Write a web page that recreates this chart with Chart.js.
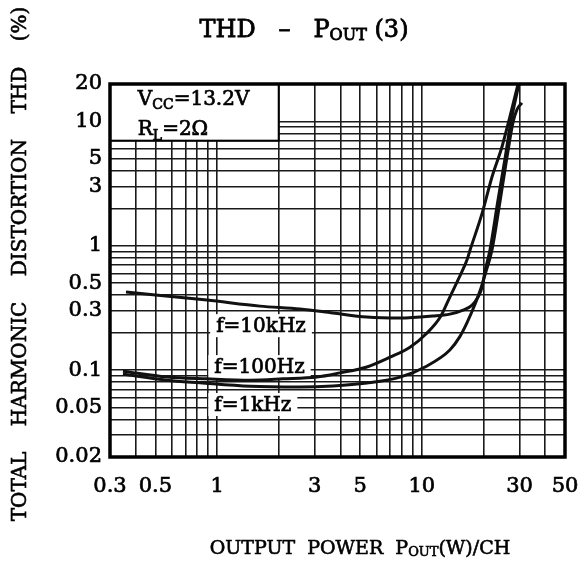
<!DOCTYPE html>
<html>
<head>
<meta charset="utf-8">
<script src="https://cdn.jsdelivr.net/npm/chart.js@4.4.1/dist/chart.umd.min.js"></script>
<style>
  body { margin: 0; background: #fff; }
  #wrap { width: 581px; height: 564px; }
</style>
</head>
<body>
<div id="wrap"><canvas id="thdChart"></canvas></div>
<script>
// output power (W) and THD (%)
const pout100Hz = [0.347, 0.569, 0.893, 1.45, 2.10, 3.07, 3.98, 5.39, 6.99, 8.75, 10.6, 12.3, 13.7, 15.0, 16.6, 17.2, 19.7, 22.0, 24.6, 26.9, 29.5];
const thd100Hz  = [0.098, 0.088, 0.085, 0.083, 0.085, 0.088, 0.095, 0.106, 0.127, 0.153, 0.199, 0.267, 0.387, 0.53, 0.767, 0.924, 1.83, 3.57, 6.23, 10.9, 20];

const pout1kHz = [0.347, 0.569, 0.825, 1.45, 2.54, 3.68, 5.39, 7.82, 10.6, 13.7, 15.3, 16.6, 18.2, 19.2, 20.6, 22.0, 24.1, 26.0, 27.9, 29.1, 30.8];
const thd1kHz  = [0.093, 0.083, 0.079, 0.074, 0.073, 0.0744, 0.0786, 0.0877, 0.108, 0.145, 0.185, 0.240, 0.340, 0.430, 0.626, 0.924, 2.29, 5.08, 9.89, 12.4, 14.1];

const pout10kHz = [0.359, 0.893, 1.62, 2.54, 3.68, 5.39, 7.82, 11.3, 13.7, 15.9, 17.6, 18.8, 19.7, 20.3, 21.5, 23.5, 25.5, 27.2, 29.8];
const thd10kHz  = [0.424, 0.366, 0.327, 0.310, 0.288, 0.267, 0.262, 0.272, 0.282, 0.304, 0.333, 0.387, 0.466, 0.615, 0.924, 2.29, 5.08, 9.89, 20];

// grid lines and which of them get a label
const xGrid = [0.3, 0.4, 0.5, 0.6, 0.7, 0.8, 0.9, 1, 2, 3, 4, 5, 6, 7, 8, 9, 10, 20, 30, 40, 50];
const xLabels = [0.3, 0.5, 1, 3, 5, 10, 30, 50];
const yGrid = [0.02, 0.03, 0.04, 0.05, 0.06, 0.07, 0.08, 0.09, 0.1, 0.2, 0.3, 0.4, 0.5, 0.6, 0.7, 0.8, 0.9, 1, 2, 3, 4, 5, 6, 7, 8, 9, 10, 20];
const yLabels = [0.02, 0.05, 0.1, 0.3, 0.5, 1, 3, 5, 10, 20];

// curve names, placed in data units
const curveLabels = [
  { text: 'f=10kHz', x: 0.99, y: 0.202 },
  { text: 'f=100Hz', x: 0.97, y: 0.0946 },
  { text: 'f=1kHz', x: 0.97, y: 0.0469 }
];

const serif = '"DejaVu Serif", serif';

function pts(xs, ys) {
  return xs.map((v, i) => ({ x: v, y: ys[i] }));
}

// regular face with a thin outline, close to the heavy print of the sheet
function inkText(ctx, s, x, y) {
  ctx.fillText(s, x, y);
  ctx.strokeText(s, x, y);
}

// draws text pieces one after another: [text, size, dy]
function drawRuns(ctx, runs, x, y, center) {
  let total = 0;
  runs.forEach(r => { ctx.font = r[1] + 'px ' + serif; total += ctx.measureText(r[0]).width; });
  let cx = center ? x - total / 2 : x;
  ctx.textAlign = 'left';
  ctx.textBaseline = 'alphabetic';
  runs.forEach(r => {
    ctx.font = r[1] + 'px ' + serif;
    inkText(ctx, r[0], cx, y + (r[2] || 0));
    cx += ctx.measureText(r[0]).width;
  });
}

const paperPlugin = {
  id: 'paper',
  beforeDatasetsDraw(chart) {
    const ctx = chart.ctx, a = chart.chartArea;
    const xs = chart.scales.x, ys = chart.scales.y;
    ctx.save();
    // condition box in the upper left corner
    const bx = xs.getPixelForValue(2), by = ys.getPixelForValue(7);
    ctx.fillStyle = '#fff';
    ctx.fillRect(a.left, a.top, bx - a.left, by - a.top);
    ctx.strokeStyle = '#000';
    ctx.lineWidth = 2;
    ctx.strokeRect(a.left, a.top, bx - a.left, by - a.top);
    ctx.fillStyle = '#000';
    ctx.lineWidth = 0.7;
    const tx = xs.getPixelForValue(0.41);
    drawRuns(ctx, [['V', 20], ['CC', 14, 4], ['=13.2V', 20]], tx, ys.getPixelForValue(13.6));
    drawRuns(ctx, [['R', 20], ['L', 14, 5], ['=2Ω', 20]], tx, ys.getPixelForValue(7.8));

    curveLabels.forEach(l => {
      const px = xs.getPixelForValue(l.x), py = ys.getPixelForValue(l.y);
      ctx.font = '20px ' + serif;
      const w = ctx.measureText(l.text).width;
      ctx.fillStyle = '#fff';
      ctx.fillRect(px - 6, py - 18, w + 12, 23);
      ctx.fillStyle = '#000';
      ctx.textAlign = 'left';
      inkText(ctx, l.text, px, py);
    });
    ctx.restore();
  },
  afterDatasetsDraw(chart) {
    const ctx = chart.ctx, a = chart.chartArea;
    ctx.save();
    ctx.strokeStyle = '#000';
    ctx.lineWidth = 3.5;
    ctx.strokeRect(a.left, a.top, a.right - a.left, a.bottom - a.top);
    ctx.restore();
  },
  afterDraw(chart) {
    const ctx = chart.ctx;
    ctx.save();
    ctx.fillStyle = '#000';
    ctx.strokeStyle = '#000';
    ctx.lineWidth = 0.8;
    drawRuns(ctx, [['THD   –   P', 24], ['OUT', 16, 3], [' (3)', 24]], 304, 37, true);
    ctx.lineWidth = 0.6;
    drawRuns(ctx, [['OUTPUT  POWER  P', 19], ['OUT', 13, 2], ['(W)/CH', 19]], 360, 554, true);
    ctx.translate(21, 264);
    ctx.rotate(-Math.PI / 2);
    ctx.font = '20px ' + serif;
    ctx.textAlign = 'center';
    ctx.textBaseline = 'middle';
    inkText(ctx, 'TOTAL    HARMONIC    DISTORTION    THD    (%)', 0, 0);
    ctx.restore();
  }
};

const line = { borderColor: '#111', borderWidth: 3, pointRadius: 0, fill: false, cubicInterpolationMode: 'monotone' };

const config = {
  type: 'line',
  data: {
    datasets: [
      Object.assign({ label: 'f=100Hz', data: pts(pout100Hz, thd100Hz) }, line),
      Object.assign({ label: 'f=1kHz', data: pts(pout1kHz, thd1kHz) }, line),
      Object.assign({ label: 'f=10kHz', data: pts(pout10kHz, thd10kHz) }, line)
    ]
  },
  options: {
    responsive: true,
    maintainAspectRatio: false,
    animation: false,
    layout: { padding: { top: 84, right: 16, left: 0, bottom: 0 } },
    plugins: { legend: { display: false }, tooltip: { enabled: false } },
    scales: {
      x: {
        type: 'logarithmic',
        min: 0.3,
        max: 50,
        afterBuildTicks: s => { s.ticks = xGrid.map(v => ({ value: v })); },
        afterFit: s => { s.height = 107; s.paddingLeft = 0; s.paddingRight = 0; },
        grid: { color: '#1a1a1a', lineWidth: 1.6, drawTicks: false },
        border: { display: false },
        ticks: {
          autoSkip: false, maxRotation: 0, padding: 17, color: '#000',
          textStrokeColor: '#000', textStrokeWidth: 0.7,
          font: { family: serif, size: 21 },
          callback: v => xLabels.includes(v) ? String(v) : ''
        }
      },
      y: {
        type: 'logarithmic',
        min: 0.02,
        max: 20,
        afterBuildTicks: s => { s.ticks = yGrid.map(v => ({ value: v })); },
        afterFit: s => { s.width = 110; s.paddingTop = 0; s.paddingBottom = 0; },
        grid: { color: '#1a1a1a', lineWidth: 1.6, drawTicks: false },
        border: { display: false },
        ticks: {
          autoSkip: false, padding: 8, color: '#000',
          textStrokeColor: '#000', textStrokeWidth: 0.7,
          font: { family: serif, size: 21 },
          callback: v => yLabels.includes(v) ? String(v) : ''
        }
      }
    }
  },
  plugins: [paperPlugin]
};

new Chart(document.getElementById('thdChart'), config);
</script>
</body>
</html>
